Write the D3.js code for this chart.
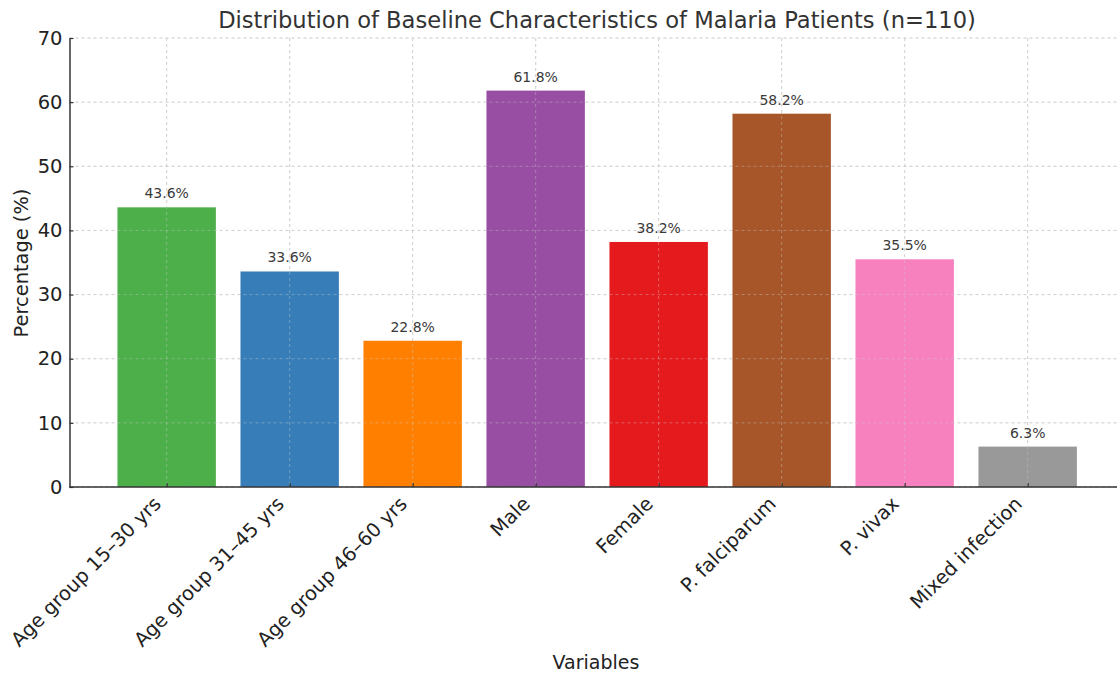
<!DOCTYPE html>
<html><head><meta charset="utf-8">
<script src="https://cdn.jsdelivr.net/npm/d3@7"></script>
<style>body{margin:0;background:#fff;} svg{display:block;font-family:"DejaVu Sans",sans-serif;}</style>
</head><body>
<svg id="chart" width="1117" height="675"></svg>
<script>
const categories = ["Age group 15\u201330 yrs","Age group 31\u201345 yrs","Age group 46\u201360 yrs","Male","Female","P. falciparum","P. vivax","Mixed infection"];
const values = [43.6, 33.6, 22.8, 61.8, 38.2, 58.2, 35.5, 6.3];
const colors = ["#4daf4a","#377eb8","#ff7f00","#984ea3","#e41a1c","#a65628","#f781bf","#999999"];
const yTicks = [0,10,20,30,40,50,60,70];
const title = "Distribution of Baseline Characteristics of Malaria Patients (n=110)";
const xLabel = "Variables", yLabel = "Percentage (%)";

(function(){
const svg = d3.select("#chart");
const mLeft = 69.5, mBottom = 487, mTop = 38, mRight = 1117;
const x = d3.scaleLinear().domain([-0.79, 7.79]).range([mLeft, mLeft + 8.58*123]);
const y = d3.scaleLinear().domain([0,70]).range([mBottom, mTop]);
const bw = x(0.4) - x(-0.4);

// grid
const g = svg.append("g");
g.selectAll("line.gy").data(yTicks).join("line")
  .attr("x1", mLeft).attr("x2", mRight).attr("y1", d=>y(d)).attr("y2", d=>y(d))
  .attr("stroke", "#cccccc").attr("stroke-width", 0.8).attr("stroke-dasharray", "3,3");
g.selectAll("line.gx").data(categories).join("line")
  .attr("x1", (d,i)=>x(i)).attr("x2", (d,i)=>x(i)).attr("y1", mTop).attr("y2", mBottom)
  .attr("stroke", "#cccccc").attr("stroke-width", 0.8).attr("stroke-dasharray", "3,3");

// bars
svg.append("g").selectAll("rect").data(values).join("rect")
  .attr("x", (d,i)=>x(i)-bw/2).attr("width", bw)
  .attr("y", d=>y(d)).attr("height", d=>mBottom - y(d))
  .attr("fill", (d,i)=>colors[i]);

// faint grid over bars
const g2 = svg.append("g");
g2.selectAll("line.a").data(categories).join("line")
  .attr("x1", (d,i)=>x(i)).attr("x2", (d,i)=>x(i)).attr("y1", mTop).attr("y2", mBottom)
  .attr("stroke", "#cccccc").attr("stroke-opacity", 0.5).attr("stroke-width", 0.8).attr("stroke-dasharray", "3,3");
g2.selectAll("line.b").data(yTicks).join("line")
  .attr("x1", mLeft).attr("x2", mRight).attr("y1", d=>y(d)).attr("y2", d=>y(d))
  .attr("stroke", "#cccccc").attr("stroke-opacity", 0.5).attr("stroke-width", 0.8).attr("stroke-dasharray", "3,3");

// value labels
svg.append("g").selectAll("text").data(values).join("text")
  .attr("x", (d,i)=>x(i)).attr("y", d=>y(d) - 9)
  .attr("text-anchor", "middle").attr("font-size", 14).attr("fill", "#3a3a3a")
  .text(d=>d.toFixed(1) + "%");

// y axis
const yAxis = d3.axisLeft(y).tickValues(yTicks).tickSizeInner(-4).tickSizeOuter(0).tickPadding(7);
const ya = svg.append("g").attr("transform", `translate(${mLeft},0)`).call(yAxis);
ya.select(".domain").attr("stroke", "#333").attr("stroke-width", 1.5);
ya.selectAll(".tick line").attr("stroke", "#333").attr("stroke-width", 1.2);
ya.selectAll(".tick text").attr("font-size", 19.5).attr("fill", "#222").attr("font-family", "DejaVu Sans");

// x axis
const xAxis = d3.axisBottom(x).tickValues(d3.range(categories.length)).tickSizeInner(-4).tickSizeOuter(0).tickFormat(i=>categories[i]);
const xa = svg.append("g").attr("transform", `translate(0,${mBottom})`).call(xAxis);
xa.select(".domain").attr("d", `M${mLeft},0H${mRight}`).attr("stroke", "#333").attr("stroke-width", 1.5);
xa.selectAll(".tick line").attr("stroke", "#333").attr("stroke-width", 1.2);
xa.selectAll(".tick text").attr("font-size", 19.5).attr("fill", "#222").attr("font-family", "DejaVu Sans")
  .attr("text-anchor", "end").attr("x", -5).attr("y", 18).attr("dy", 0)
  .attr("transform", "rotate(-45, -5, 18)");

// title & labels
svg.append("text").attr("x", 597).attr("y", 28).attr("text-anchor", "middle")
  .attr("font-size", 22.6).attr("fill", "#333").text(title);
svg.append("text").attr("x", 596).attr("y", 669).attr("text-anchor", "middle")
  .attr("font-size", 19).attr("fill", "#222").text(xLabel);
svg.append("text").attr("transform", "translate(28,263) rotate(-90)").attr("text-anchor", "middle")
  .attr("font-size", 19.4).attr("fill", "#222").text(yLabel);
})();
</script>
</body></html>
